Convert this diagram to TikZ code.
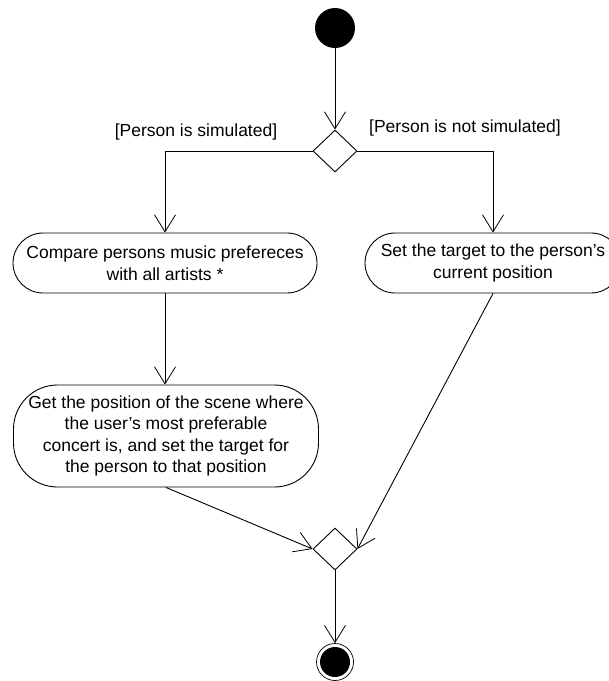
\documentclass[tikz,border=0pt]{standalone}
\usepackage{fontspec}
\setmainfont{Liberation Sans}
\usetikzlibrary{positioning, shapes.geometric, arrows.meta}

\begin{document}
\begin{tikzpicture}[x=1pt, y=-1pt, line width=0.9pt, align=center,
    font=\fontsize{17.5}{21.5}\selectfont,
    >={Straight Barb[length=17pt, width=21pt, line width=0.8pt]},
    activity/.style={draw, rectangle, rounded corners=30pt, minimum height=60pt, inner sep=0pt},
    decision/.style={draw, diamond, aspect=1, minimum width=44pt, minimum height=42pt, inner sep=0pt},
    guard/.style={inner sep=0pt}]
    \useasboundingbox (0,0) rectangle (609,681);

    \node (start)   [circle, fill=black, minimum size=40pt, inner sep=0pt] at (335,28) {};
    \node (split)   [decision] at (335,151) {};
    \node (compare) [activity, minimum width=304pt] at (165,263)
        {Compare persons music prefereces\\with all artists *};
    \node (settarget) [activity, minimum width=256pt] at (493,263)
        {Set the target to the person's\\current position};
    \node (scene)   [activity, minimum width=305pt, minimum height=102pt, rounded corners=44pt] at (166,436)
        {Get the position of the scene where\\the user's most preferable\\concert is, and set the target for\\the person to that position};
    \node (merge)   [decision] at (335,549) {};
    \node (final)   [circle, draw, line width=0.7pt, minimum size=37pt, inner sep=0pt,
        path picture={\fill (path picture bounding box.center) circle (15pt);}] at (335,662) {};

    \node (simulated)    [guard] at (196,132) {[Person is simulated]};
    \node (notsimulated) [guard] at (465,128) {[Person is not simulated]};

    \draw[->] (start)     -- (split);
    \draw[->] (split.west) -| (compare);
    \draw[->] (split.east) -| (settarget);
    \draw[->] (compare)   -- (compare |- scene.north);
    \draw[->] (scene.south) -- (merge.west);
    \draw[->] (settarget.south) -- (merge.east);
    \draw[->] (merge)     -- (final);
\end{tikzpicture}
\end{document}
